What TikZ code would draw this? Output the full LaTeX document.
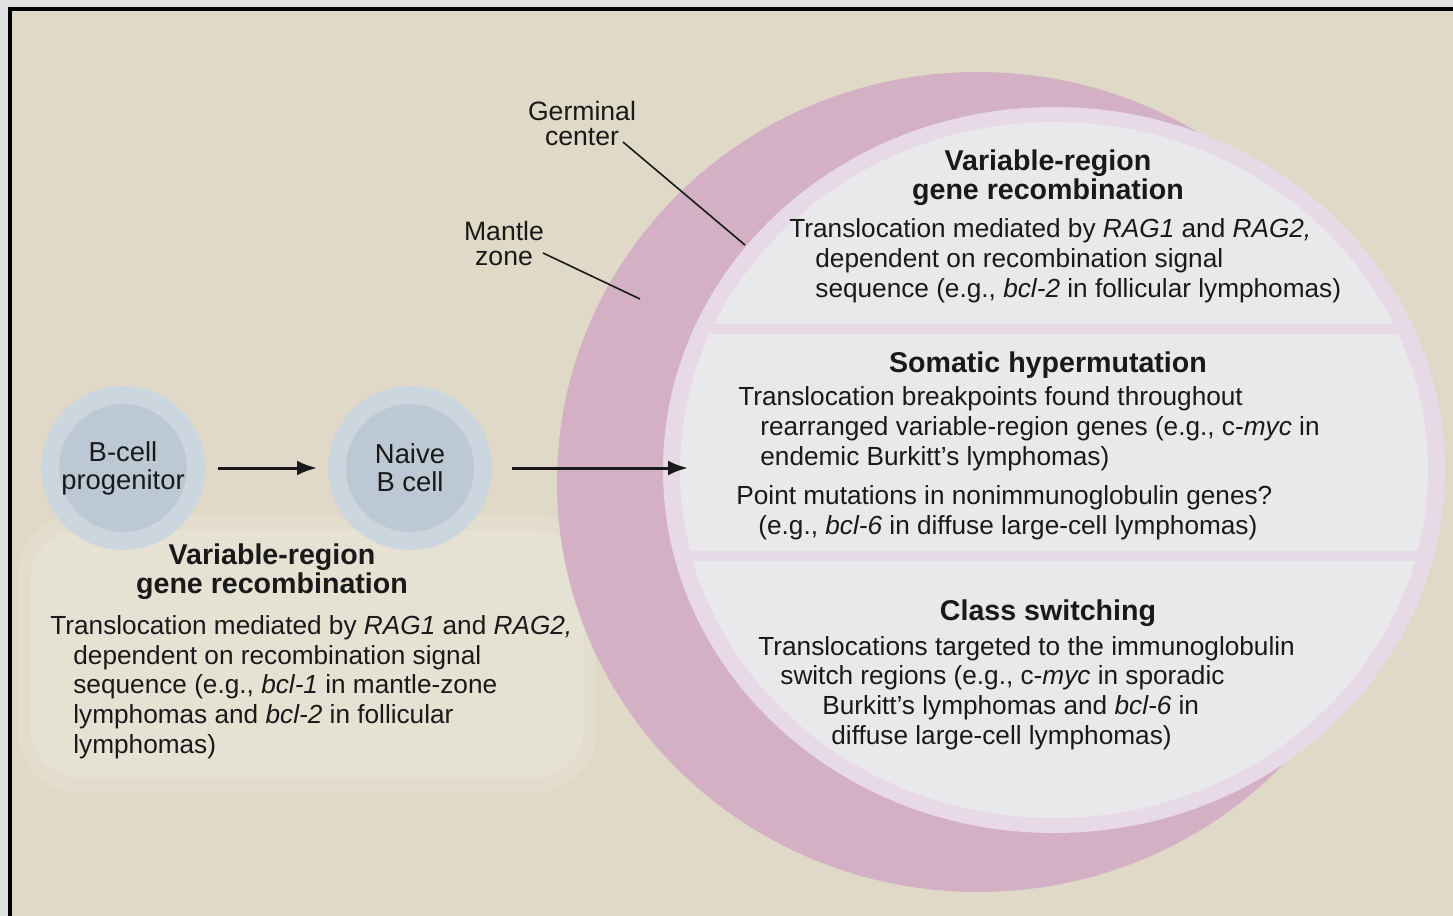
\documentclass[tikz,border=0pt]{standalone}
\usepackage{fontspec}
\setmainfont{Liberation Sans}
\usetikzlibrary{positioning,arrows.meta}
\definecolor{pagegrey}{RGB}{225,225,225}
\definecolor{beige}{RGB}{224,217,200}
\definecolor{glowbeige}{RGB}{234,231,220}
\definecolor{mantle}{RGB}{211,176,196}
\definecolor{gcrim}{RGB}{231,217,229}
\definecolor{gcband}{RGB}{233,232,234}
\definecolor{cellout}{RGB}{204,214,223}
\definecolor{cellin}{RGB}{188,201,213}
\definecolor{ink}{RGB}{25,25,25}

\begin{document}
\begin{tikzpicture}[x=0.5pt,y=-0.5pt]
  \tikzstyle{cell}=[circle,fill=cellin,draw=cellout,line width=9pt,minimum size=73pt,inner sep=0pt,
    align=center,text=ink,font=\fontsize{13.7}{14}\selectfont]
  \tikzstyle{head}=[anchor=base,align=center,inner sep=0pt,text=ink,font=\bfseries\fontsize{14.3}{14.3}\selectfont]
  \tikzstyle{body}=[anchor=base west,align=left,inner sep=0pt,text=ink,font=\fontsize{13.1}{14.8}\selectfont]
  \tikzstyle{lab}=[anchor=base,align=center,inner sep=0pt,text=ink,font=\fontsize{13.3}{12.3}\selectfont]
  \tikzstyle{leader}=[draw=ink,line width=0.8pt]
  \tikzstyle{EdgeStyle}=[->,>={Latex[length=10pt,width=7.5pt]},draw=ink,line width=1.5pt]
  \useasboundingbox (0,0) rectangle (1453,916);
  \fill[pagegrey] (0,0) rectangle (1453,916);
  \fill[beige] (10,9) rectangle (1453,916);
  \fill[glowbeige,opacity=0.35,rounded corners=30pt] (18,515) rectangle (596,792);
  \fill[glowbeige,opacity=0.4,rounded corners=25pt] (30,530) rectangle (584,778);
  \draw[black,line width=1.6pt] (10,916) -- (10,9) -- (1453,9);
  \fill[mantle] (978,482) ellipse (421 and 410);
  \fill[gcrim] (1054,470) ellipse (391 and 363);
  \begin{scope}
    \clip (1054,470) ellipse (374 and 348);
    \fill[gcband,rounded corners=14pt] (650,120) rectangle (1460,324);
    \fill[gcband,rounded corners=14pt] (650,334) rectangle (1460,551);
    \fill[gcband,rounded corners=14pt] (650,561) rectangle (1460,820);
  \end{scope}
  \node[cell] (prog) at (123,468) {B-cell\\progenitor};
  \node[cell] (naive) at (410,468) {Naive\\B cell};
  \coordinate (gcin) at (688,468);
  \draw[EdgeStyle,shorten <=6.5pt,shorten >=5.5pt] (prog) -- (naive);
  \draw[EdgeStyle,shorten <=10pt] (naive) -- (gcin);
  \node[lab] (gclab) at (582,145) {Germinal\\center};
  \coordinate (gcfoot) at (623,142);
  \coordinate (gctip) at (745,245);
  \draw[leader] (gcfoot) -- (gctip);
  \node[lab] (mzlab) at (504,265) {Mantle\\zone};
  \coordinate (mzfoot) at (543,253);
  \coordinate (mztip) at (640,299);
  \draw[leader] (mzfoot) -- (mztip);
  \node[head] (vrhead) at (272,593) {Variable-region\\gene recombination};
  \node[body] (vrtext) at (50,753) {Translocation mediated by \textit{RAG1} and \textit{RAG2,}\\
    \hspace*{11.5pt}dependent on recombination signal\\
    \hspace*{11.5pt}sequence (e.g., \textit{bcl-1} in mantle-zone\\
    \hspace*{11.5pt}lymphomas and \textit{bcl-2} in follicular\\
    \hspace*{11.5pt}lymphomas)};
  \node[head] (gvhead) at (1048,199) {Variable-region\\gene recombination};
  \node[body] (gvtext) at (789,297) {Translocation mediated by \textit{RAG1} and \textit{RAG2,}\\
    \hspace*{13pt}dependent on recombination signal\\
    \hspace*{13pt}sequence (e.g., \textit{bcl-2} in follicular lymphomas)};
  \node[head] (shhead) at (1048,372) {Somatic hypermutation};
  \node[body] (shtext) at (738,465) {Translocation breakpoints found throughout\\
    \hspace*{11pt}rearranged variable-region genes (e.g., c-\textit{myc} in\\
    \hspace*{11pt}endemic Burkitt’s lymphomas)};
  \node[body] (pmtext) at (736,534) {Point mutations in nonimmunoglobulin genes?\\
    \hspace*{11pt}(e.g., \textit{bcl-6} in diffuse large-cell lymphomas)};
  \node[head] (cshead) at (1048,620) {Class switching};
  \node[body] (cstext) at (758,744) {Translocations targeted to the immunoglobulin\\
    \hspace*{11pt}switch regions (e.g., c-\textit{myc} in sporadic\\
    \hspace*{32pt}Burkitt’s lymphomas and \textit{bcl-6} in\\
    \hspace*{36.5pt}diffuse large-cell lymphomas)};
\end{tikzpicture}
\end{document}
